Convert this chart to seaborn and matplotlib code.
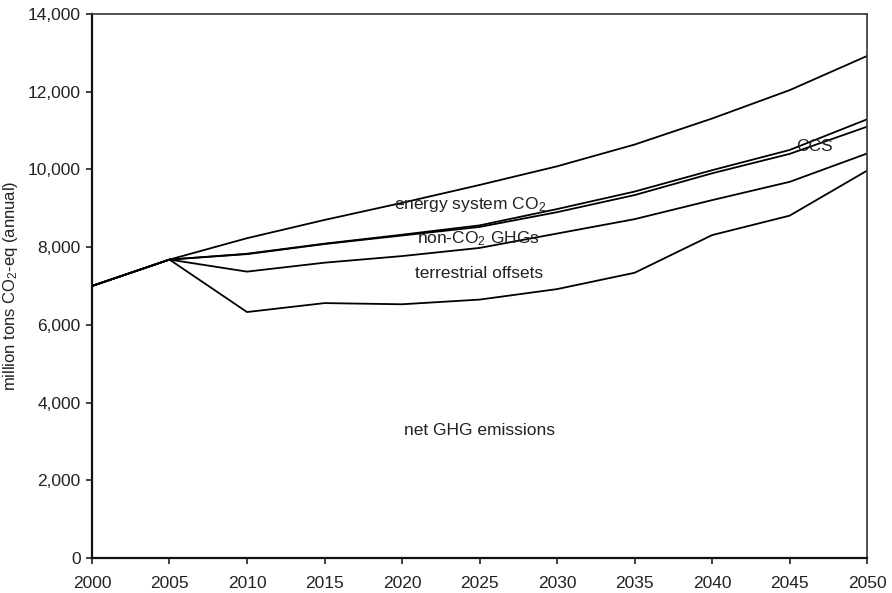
import matplotlib
matplotlib.use("Agg")
import matplotlib.pyplot as plt
import seaborn as sns
import pandas as pd

# Emission pathway components, million tons CO2-eq per year
years = [2000, 2005, 2010, 2015, 2020, 2025, 2030, 2035, 2040, 2045, 2050]
energy_system = [7000, 7680, 8230, 8700, 9140, 9600, 10080, 10640, 11310, 12040, 12920]
ccs_upper = [7000, 7680, 7830, 8090, 8320, 8560, 8980, 9430, 9980, 10500, 11290]
ccs_lower = [7000, 7680, 7820, 8080, 8300, 8520, 8900, 9340, 9900, 10400, 11100]
non_co2 = [7000, 7680, 7370, 7600, 7770, 7980, 8350, 8720, 9210, 9680, 10410]
net_ghg = [7000, 7680, 6330, 6560, 6530, 6650, 6920, 7340, 8310, 8810, 9970]

series = {
    "energy system": energy_system,
    "ccs upper": ccs_upper,
    "ccs lower": ccs_lower,
    "non-CO2": non_co2,
    "net": net_ghg,
}

yticks = [0, 2000, 4000, 6000, 8000, 10000, 12000, 14000]
xticks = years

df = pd.DataFrame(
    [(name, y, v) for name, vals in series.items() for y, v in zip(years, vals)],
    columns=["series", "year", "value"],
)

sns.set_style("ticks")
plt.rcParams["font.family"] = ["Liberation Sans", "DejaVu Sans"]
plt.rcParams["mathtext.fontset"] = "custom"
plt.rcParams["mathtext.rm"] = "Liberation Sans"
plt.rcParams["mathtext.default"] = "regular"

fig = plt.figure(figsize=(8.92, 5.93), dpi=100)
ax = fig.add_axes([0.1031, 0.059, 0.869, 0.9174])

sns.lineplot(
    data=df, x="year", y="value", hue="series",
    palette=["black"] * len(series), linewidth=1.3,
    legend=False, ax=ax,
)

ax.set_xlim(2000, 2050)
ax.set_ylim(0, 14000)
ax.set_xticks(xticks)
ax.set_yticks(yticks)
ax.set_yticklabels([f"{t:,}" for t in yticks])
ax.set_xlabel("")
ax.set_ylabel("million tons CO$_2$-eq (annual)", fontsize=12, color="#222222", labelpad=6)
ax.tick_params(axis="both", labelsize=12.5, length=4, width=1.2, colors="#222222")
ax.tick_params(axis="x", pad=9)
ax.tick_params(axis="y", pad=4)

for side in ["left", "bottom"]:
    ax.spines[side].set_linewidth(1.6)
    ax.spines[side].set_color("#111111")
for side in ["top", "right"]:
    ax.spines[side].set_visible(True)
    ax.spines[side].set_linewidth(1.2)
    ax.spines[side].set_color("#333333")

label_kw = dict(fontsize=12.5, color="#222222", ha="center", va="center")
ax.text(2024.4, 9100, "energy system CO$_2$", **label_kw)
ax.text(2046.6, 10600, "CCS", **label_kw)
ax.text(2024.9, 8230, "non-CO$_2$ GHGs", **label_kw)
ax.text(2025.0, 7330, "terrestrial offsets", **label_kw)
ax.text(2025.0, 3290, "net GHG emissions", **label_kw)

fig.savefig("out.png", dpi=100)
